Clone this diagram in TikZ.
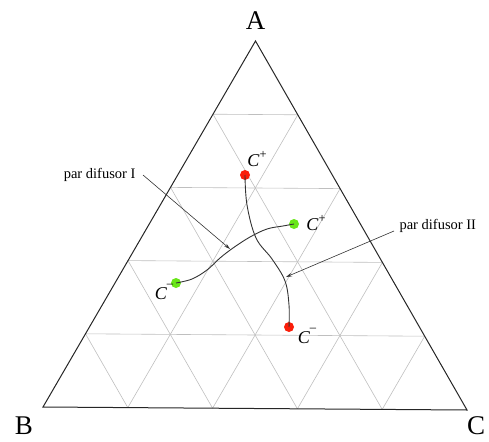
\documentclass[tikz,border=0pt]{standalone}
\usepackage{fontspec}
\setmainfont{Liberation Serif}
\usetikzlibrary{calc,arrows.meta}
\definecolor{ptred}{RGB}{250,30,10}
\definecolor{ptgreen}{RGB}{105,230,25}
\newcommand{\csup}[2]{\textit{C}\raisebox{#2}{\fontsize{12.5}{13}\selectfont #1}}
\tikzset{
  gridline/.style={draw=black!25, line width=0.6pt},
  frame/.style={draw=black!85, line width=1pt},
  vlabel/.style={font=\fontsize{27}{30}\selectfont},
  clabel/.style={font=\fontsize{18}{20}\selectfont, inner sep=0pt},
  annot/.style={font=\fontsize{14.5}{17}\selectfont},
  pathcurve/.style={draw=black!80, line width=0.9pt},
  pointer/.style={draw=black!80, line width=0.6pt, -{Stealth[length=6pt,width=3.5pt]}},
  dotred/.style={circle, fill=ptred, inner sep=0pt, minimum size=10pt},
  dotgreen/.style={circle, fill=ptgreen, inner sep=0pt, minimum size=10pt}
}
\begin{document}
\begin{tikzpicture}[x=1pt,y=-1pt]
\useasboundingbox (0,0) rectangle (489,441);
\coordinate (A) at (255.5,41);
\coordinate (B) at (43,407);
\coordinate (C) at (467,410);
% grid
\foreach \t in {0.2,0.4,0.6,0.8}{
  \draw[gridline] ($(A)!\t!(B)$) -- ($(A)!\t!(C)$);
  \draw[gridline] ($(B)!\t!(C)$) -- ($(A)!\t!(C)$);
  \draw[gridline] ($(C)!\t!(B)$) -- ($(A)!\t!(B)$);
}
\draw[frame] (A) -- (B) -- (C) -- cycle;
% vertex labels
\node[vlabel] (la) at (255.5,21) {A};
\node[vlabel] (lb) at (24,426) {B};
\node[vlabel] (lc) at (476,426) {C};
% points
\node[dotred] (rp) at (245,175) {};
\node[dotred] (rm) at (289,327) {};
\node[dotgreen] (gp) at (294,224) {};
\node[dotgreen] (gm) at (176,283) {};
% curves
\draw[pathcurve] plot[smooth, tension=0.6] coordinates {(245,175) (247,205) (256,238) (272,259) (285,281) (289,305) (289,327)};
\draw[pathcurve] plot[smooth, tension=0.6] coordinates {(176,283) (192,279) (207,270) (220,258) (233,248) (250,237) (267,229) (283,226) (294,224)};
\coordinate (t1) at (230,249);
\coordinate (t2) at (286,277);
% labels
\node[clabel] (lrp) at (257,159) {\csup{+}{0.42em}};
\node[clabel] (lgp) at (316,223) {\csup{+}{0.42em}};
\node[clabel] (lgm) at (164,292) {\csup{\textendash}{0.62em}};
\node[clabel] (lrm) at (307,336) {\csup{\textendash}{0.62em}};
% annotations
\node[annot, anchor=east] (p1) at (139,175) {par difusor I};
\node[annot, anchor=west] (p2) at (396,226) {par difusor II};
\draw[pointer] (p1.east) ++(4,0) -- (t1);
\draw[pointer] (p2.west) ++(-2,5) -- (t2);
\end{tikzpicture}
\end{document}
